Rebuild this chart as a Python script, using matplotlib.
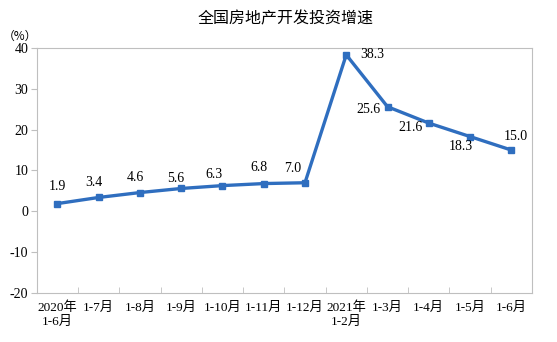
import matplotlib.pyplot as plt

categories = ['2020年\n1-6月', '1-7月', '1-8月', '1-9月', '1-10月', '1-11月', '1-12月',
              '2021年\n1-2月', '1-3月', '1-4月', '1-5月', '1-6月']
values = [1.9, 3.4, 4.6, 5.6, 6.3, 6.8, 7.0, 38.3, 25.6, 21.6, 18.3, 15.0]
# label offsets in points (dx, dy)
offsets = [(0, 12), (-3.5, 11), (-3, 11), (-4, 7.5), (-6, 8), (-3.5, 11.5), (-9, 10),
           (19, 0), (-14, -2), (-13, -3), (-6.5, -7), (3, 10)]

SERIF = ['Liberation Serif', 'Noto Sans CJK SC']
BLUE = '#2F6EBF'

fig = plt.figure(figsize=(5.57, 3.42), dpi=100)
ax = fig.add_axes([0.066, 0.143, 0.889, 0.717])

x = list(range(len(values)))
ax.plot(x, values, color=BLUE, lw=2.4, marker='s', ms=4, zorder=3)
for xi, v, (dx, dy) in zip(x, values, offsets):
    ax.annotate(f'{v:.1f}', (xi, v), xytext=(dx, dy), textcoords='offset points',
                ha='center', va='center', fontsize=10, family=SERIF)

ax.set_xlim(-0.5, len(values) - 0.5)
ax.set_ylim(-20, 40)
ax.set_yticks(range(-20, 41, 10))
ax.set_yticklabels([str(t) for t in range(-20, 41, 10)], family=SERIF, fontsize=10)
ax.set_xticks(x)
ax.set_xticklabels(categories, family=SERIF, fontsize=9.5)
ax.tick_params(axis='x', length=0, pad=6)
ax.set_xticks([i + 0.5 for i in range(len(values) - 1)], minor=True)
ax.tick_params(axis='x', which='minor', direction='in', length=4, color='#BFBFBF')
ax.tick_params(axis='y', length=4, color='#BFBFBF', pad=2)
for s in ax.spines.values():
    s.set_color('#BFBFBF')

fig.text(0.512, 0.945, '全国房地产开发投资增速', ha='center', va='center',
         fontsize=11.5, family='Noto Sans CJK SC')
fig.text(0.036, 0.895, '（%）', ha='center', va='center', fontsize=8.5,
         family=['Noto Sans CJK SC', 'DejaVu Sans'])

fig.savefig('out.png', dpi=100)
